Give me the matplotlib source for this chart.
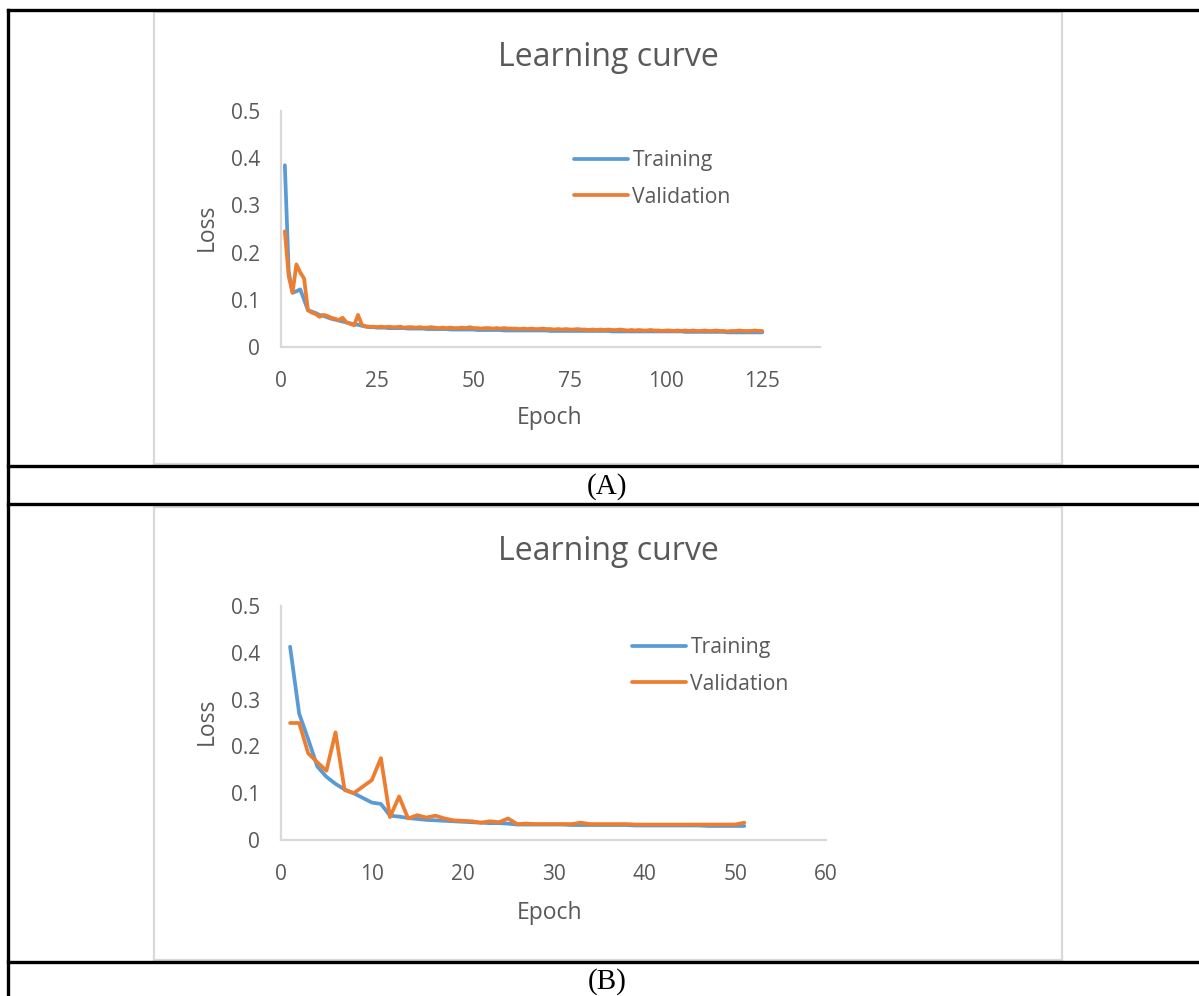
import matplotlib
matplotlib.use("Agg")
import matplotlib.pyplot as plt
from matplotlib.lines import Line2D
from matplotlib.patches import Rectangle

# ---- data ----
train_a = [0.385, 0.160, 0.115, 0.118, 0.122, 0.100, 0.078, 0.075, 0.072, 0.068,
           0.066, 0.063, 0.060, 0.058, 0.056, 0.054, 0.052, 0.050, 0.048, 0.047,
           0.045, 0.043, 0.042, 0.042, 0.041, 0.041, 0.041, 0.040, 0.040, 0.040,
           0.040, 0.040, 0.039, 0.039, 0.039, 0.039, 0.039, 0.038, 0.038, 0.038,
           0.038, 0.038, 0.038, 0.037, 0.037, 0.037, 0.037, 0.037, 0.037, 0.037,
           0.036, 0.036, 0.036, 0.036, 0.036, 0.036, 0.036, 0.035, 0.035, 0.035,
           0.035, 0.035, 0.035, 0.035, 0.035, 0.035, 0.035, 0.035, 0.035, 0.034,
           0.034, 0.034, 0.034, 0.034, 0.034, 0.034, 0.034, 0.034, 0.034, 0.034,
           0.034, 0.034, 0.034, 0.034, 0.034, 0.033, 0.033, 0.033, 0.033, 0.033,
           0.033, 0.033, 0.033, 0.033, 0.033, 0.033, 0.033, 0.033, 0.033, 0.033,
           0.033, 0.033, 0.033, 0.033, 0.032, 0.032, 0.032, 0.032, 0.032, 0.032,
           0.032, 0.032, 0.032, 0.032, 0.032, 0.031, 0.031, 0.031, 0.031, 0.031,
           0.031, 0.031, 0.031, 0.031, 0.031]
val_a = [0.245, 0.150, 0.115, 0.175, 0.158, 0.145, 0.078, 0.073, 0.070, 0.064,
         0.068, 0.066, 0.062, 0.060, 0.057, 0.062, 0.052, 0.049, 0.046, 0.068,
         0.047, 0.044, 0.043, 0.043, 0.042, 0.043, 0.042, 0.043, 0.042, 0.042,
         0.043, 0.041, 0.042, 0.042, 0.041, 0.042, 0.041, 0.041, 0.042, 0.041,
         0.040, 0.041, 0.040, 0.041, 0.040, 0.040, 0.041, 0.040, 0.042, 0.040,
         0.040, 0.039, 0.040, 0.040, 0.039, 0.040, 0.039, 0.040, 0.039, 0.039,
         0.039, 0.038, 0.039, 0.038, 0.039, 0.038, 0.038, 0.039, 0.038, 0.038,
         0.037, 0.038, 0.037, 0.038, 0.037, 0.037, 0.038, 0.037, 0.037, 0.036,
         0.037, 0.036, 0.037, 0.036, 0.037, 0.036, 0.036, 0.037, 0.036, 0.035,
         0.036, 0.035, 0.036, 0.035, 0.035, 0.036, 0.035, 0.035, 0.034, 0.035,
         0.035, 0.034, 0.035, 0.034, 0.035, 0.034, 0.035, 0.034, 0.034, 0.035,
         0.034, 0.034, 0.035, 0.034, 0.034, 0.033, 0.034, 0.034, 0.035, 0.034,
         0.034, 0.034, 0.035, 0.034, 0.034]
epochs_a = list(range(1, len(train_a) + 1))

train_b = [0.413, 0.270, 0.215, 0.157, 0.135, 0.120, 0.108, 0.100, 0.090, 0.080,
           0.077, 0.052, 0.050, 0.047, 0.045, 0.043, 0.042, 0.041, 0.040, 0.039,
           0.038, 0.037, 0.036, 0.036, 0.035, 0.033, 0.033, 0.033, 0.033, 0.033,
           0.033, 0.032, 0.032, 0.032, 0.032, 0.032, 0.032, 0.032, 0.031, 0.031,
           0.031, 0.031, 0.031, 0.031, 0.031, 0.031, 0.030, 0.030, 0.030, 0.030,
           0.030]
val_b = [0.250, 0.250, 0.185, 0.166, 0.148, 0.230, 0.107, 0.100, 0.114, 0.128,
         0.175, 0.049, 0.093, 0.046, 0.053, 0.048, 0.052, 0.046, 0.042, 0.041,
         0.040, 0.037, 0.040, 0.038, 0.046, 0.034, 0.035, 0.034, 0.034, 0.034,
         0.034, 0.034, 0.037, 0.034, 0.034, 0.034, 0.034, 0.034, 0.033, 0.033,
         0.033, 0.033, 0.033, 0.033, 0.033, 0.033, 0.033, 0.033, 0.033, 0.033,
         0.037]
epochs_b = list(range(1, len(train_b) + 1))

xticks_a = [0, 25, 50, 75, 100, 125]
xticks_b = [0, 10, 20, 30, 40, 50, 60]
yticks = [0, 0.1, 0.2, 0.3, 0.4, 0.5]
ytick_labels = ["0", "0.1", "0.2", "0.3", "0.4", "0.5"]

W, H = 1199, 996
BLUE = "#5B9BD5"
ORANGE = "#ED7D31"
GREY_TXT = "#595959"
GREY_LINE = "#D9D9D9"
FONT = "Open Sans"


def fx(px):
    return px / W


def fy(py):
    return 1 - py / H


fig = plt.figure(figsize=(W / 100, H / 100), dpi=100)

# table rules (black) and chart frames (light grey)
for y in (10, 466, 504, 962):
    fig.add_artist(Line2D([fx(8), 1], [fy(y), fy(y)], color="black", lw=2.4))
fig.add_artist(Line2D([fx(8), fx(8)], [fy(10), 0], color="black", lw=2.4))
for top, bot in ((12, 464), (507, 960)):
    fig.add_artist(Rectangle((fx(154), fy(bot)), fx(1062) - fx(154),
                             fy(top) - fy(bot), fill=False,
                             edgecolor=GREY_LINE, lw=1.6))

fig.text(fx(607), fy(487), "(A)", ha="center", va="center",
         fontsize=21, family="Liberation Serif")
fig.text(fx(607), fy(982), "(B)", ha="center", va="center",
         fontsize=21, family="Liberation Serif")


def panel(box, x, tr, va, xmax, xticks, title_y, label_x_y, legend_xy):
    left, right, top, bottom = box
    ax = fig.add_axes([fx(left), fy(bottom), fx(right) - fx(left),
                       fy(top) - fy(bottom)])
    ax.plot(x, tr, color=BLUE, lw=2.7, label="Training",
            solid_joinstyle="round", solid_capstyle="round")
    ax.plot(x, va, color=ORANGE, lw=2.7, label="Validation",
            solid_joinstyle="round", solid_capstyle="round")
    ax.set_xlim(0, xmax)
    ax.set_ylim(0, 0.5)
    ax.set_xticks(xticks)
    ax.set_yticks(yticks)
    ax.set_yticklabels(ytick_labels)
    for s in ("top", "right"):
        ax.spines[s].set_visible(False)
    for s in ("left", "bottom"):
        ax.spines[s].set_color(GREY_LINE)
        ax.spines[s].set_linewidth(1.6)
    ax.tick_params(axis="x", pad=17)
    ax.tick_params(length=0, labelsize=15, labelcolor=GREY_TXT)
    ax.tick_params(axis="y", pad=15)
    for lab in ax.get_xticklabels() + ax.get_yticklabels():
        lab.set_family(FONT)
    ax.patch.set_alpha(0)

    fig.text(fx(608), fy(title_y), "Learning curve", ha="center",
             va="center", fontsize=23, color=GREY_TXT, family=FONT)
    fig.text(fx(550), fy(label_x_y), "Epoch", ha="center", va="center",
             fontsize=16.5, color=GREY_TXT, family=FONT)
    fig.text(fx(207), fy((top + bottom) / 2 - 2), "Loss", ha="center",
             va="center", rotation=90, fontsize=16.5, color=GREY_TXT,
             family=FONT)
    ax.legend(loc="upper left", bbox_to_anchor=(fx(legend_xy[0]),
                                                fy(legend_xy[1])),
              bbox_transform=fig.transFigure, frameon=False,
              prop={"family": FONT, "size": 15.2}, labelcolor=GREY_TXT,
              handlelength=2.55, handletextpad=0.22, labelspacing=0.75,
              borderpad=0, borderaxespad=0)
    return ax


panel((281, 820, 111, 347), epochs_a, train_a, val_a, 140, xticks_a,
      57, 418, (574, 150))
panel((281, 826, 606, 840), epochs_b, train_b, val_b, 60, xticks_b,
      551, 913, (632, 637))

fig.savefig("out.png", dpi=100)
